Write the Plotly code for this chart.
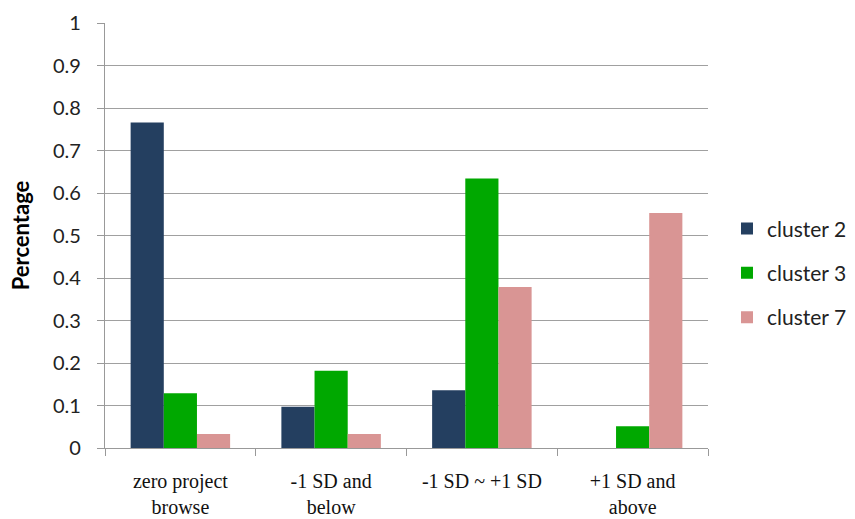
import plotly.graph_objects as go

categories = ["zero project<br>browse", "-1 SD and<br>below", "-1 SD ~ +1 SD", "+1 SD and<br>above"]
cluster2 = [0.766, 0.097, 0.136, 0.0]
cluster3 = [0.129, 0.182, 0.634, 0.051]
cluster7 = [0.033, 0.033, 0.379, 0.553]
series_names = ["cluster 2", "cluster 3", "cluster 7"]
series_colors = ["#243F60", "#00A800", "#D99594"]
y_ticks = [0, 0.1, 0.2, 0.3, 0.4, 0.5, 0.6, 0.7, 0.8, 0.9, 1]
y_tick_labels = ["0", "0.1", "0.2", "0.3", "0.4", "0.5", "0.6", "0.7", "0.8", "0.9", "1"]

SANS = "Lato, Open Sans, sans-serif"
SERIF = "Liberation Serif, Times New Roman, serif"

fig = go.Figure()
for name, vals, col in zip(series_names, [cluster2, cluster3, cluster7], series_colors):
    fig.add_trace(go.Bar(
        x=categories, y=vals, name=name, legendgroup=name,
        marker=dict(color=col, line=dict(width=0)),
    ))

fig.update_layout(
    width=855, height=519,
    margin=dict(l=105, r=147, t=23, b=71, autoexpand=False),
    paper_bgcolor="white", plot_bgcolor="white",
    barmode="group", bargap=0.34, bargroupgap=0,
    font=dict(family=SANS, color="#222222"),
    legend=dict(
        x=1.0315, y=0.412, xanchor="left", yanchor="middle",
        font=dict(size=21, color="#222222", family=SANS),
        tracegroupgap=14, itemwidth=30,
        bgcolor="rgba(0,0,0,0)",
    ),
    showlegend=True,
)

fig.update_yaxes(
    range=[0, 1], tickvals=y_ticks, ticktext=y_tick_labels,
    showgrid=True, gridcolor="#A0A0A0", gridwidth=1.2,
    showline=True, linecolor="#999999", linewidth=1.2,
    ticks="outside", ticklen=7, tickcolor="#999999",
    ticklabelstandoff=12, automargin=False,
    tickfont=dict(size=20, family=SANS, color="#222222"),
    zeroline=False,
    title=dict(text="<b>Percentage</b>", font=dict(size=22, family=SANS, color="#000000"), standoff=17),
)
fig.update_xaxes(
    showline=True, linecolor="#999999", linewidth=1.2,
    ticks="outside", ticklen=7, tickcolor="#999999", tickson="boundaries",
    tickfont=dict(size=20, family=SERIF, color="#111111"),
    ticklabelstandoff=15, automargin=False,
)

fig.write_html("out.html")
